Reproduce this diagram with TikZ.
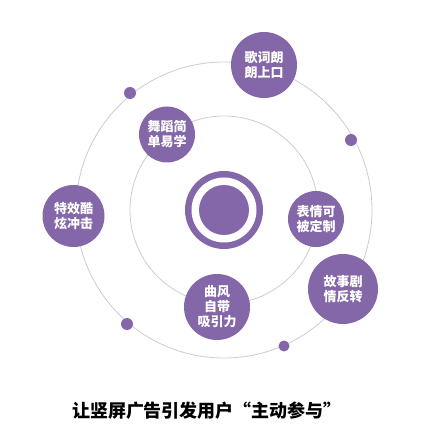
\documentclass[tikz,border=0pt]{standalone}
\usepackage{fontspec}
\setmainfont{Noto Sans CJK SC}
\newfontfamily\cjk{Noto Sans CJK SC}
\definecolor{pp}{RGB}{132,103,168}
\definecolor{orb}{RGB}{205,205,205}
\begin{document}
\begin{tikzpicture}[x=1pt,y=-1pt,
  orbit/.style={circle, draw=orb, line width=0.8pt, inner sep=0pt, minimum size=#1},
  bubble/.style={circle, fill=pp, text=white, font=\cjk\bfseries\fontsize{13}{15}\selectfont, align=center, inner sep=0pt, minimum size=#1},
  dotmark/.style={circle, fill=pp, inner sep=0pt, minimum size=#1},
  disk/.style={circle, fill=#1, inner sep=0pt},
  title/.style={font=\cjk\bfseries\fontsize{18}{20}\selectfont, text=black}]
\useasboundingbox[fill=white] (0,0) rectangle (448,441);
\coordinate (c) at (224,210);
\node[orbit=296pt] (outer) at (c) {};
\node[orbit=188pt] (inner) at (c) {};
\node[disk=pp, minimum size=78pt] (hub) at (c) {};
\node[disk=white, minimum size=65pt] (hubring) at (c) {};
\node[disk=pp, minimum size=50pt] (hubcore) at (c) {};
\node[bubble=66pt] (geci) at (264,65) {歌词朗\\朗上口};
\node[bubble=56pt] (wudao) at (167,134.5) {舞蹈简\\单易学};
\node[bubble=62pt] (texiao) at (73.5,216) {特效酷\\炫冲击};
\node[bubble=56pt] (biaoqing) at (316,219) {表情可\\被定制};
\node[bubble=66pt] (qufeng) at (217,307) {曲风\\自带\\吸引力};
\node[bubble=70pt] (gushi) at (343,289) {故事剧\\情反转};
\node[dotmark=12pt] (d1) at (130,93) {};
\node[dotmark=12pt] (d2) at (351,140) {};
\node[dotmark=12pt] (d3) at (127,324) {};
\node[dotmark=11pt] (d4) at (284,346) {};
\node[title] (cap) at (207,411) {让竖屏广告引发用户“主动参与”};
\end{tikzpicture}
\end{document}
